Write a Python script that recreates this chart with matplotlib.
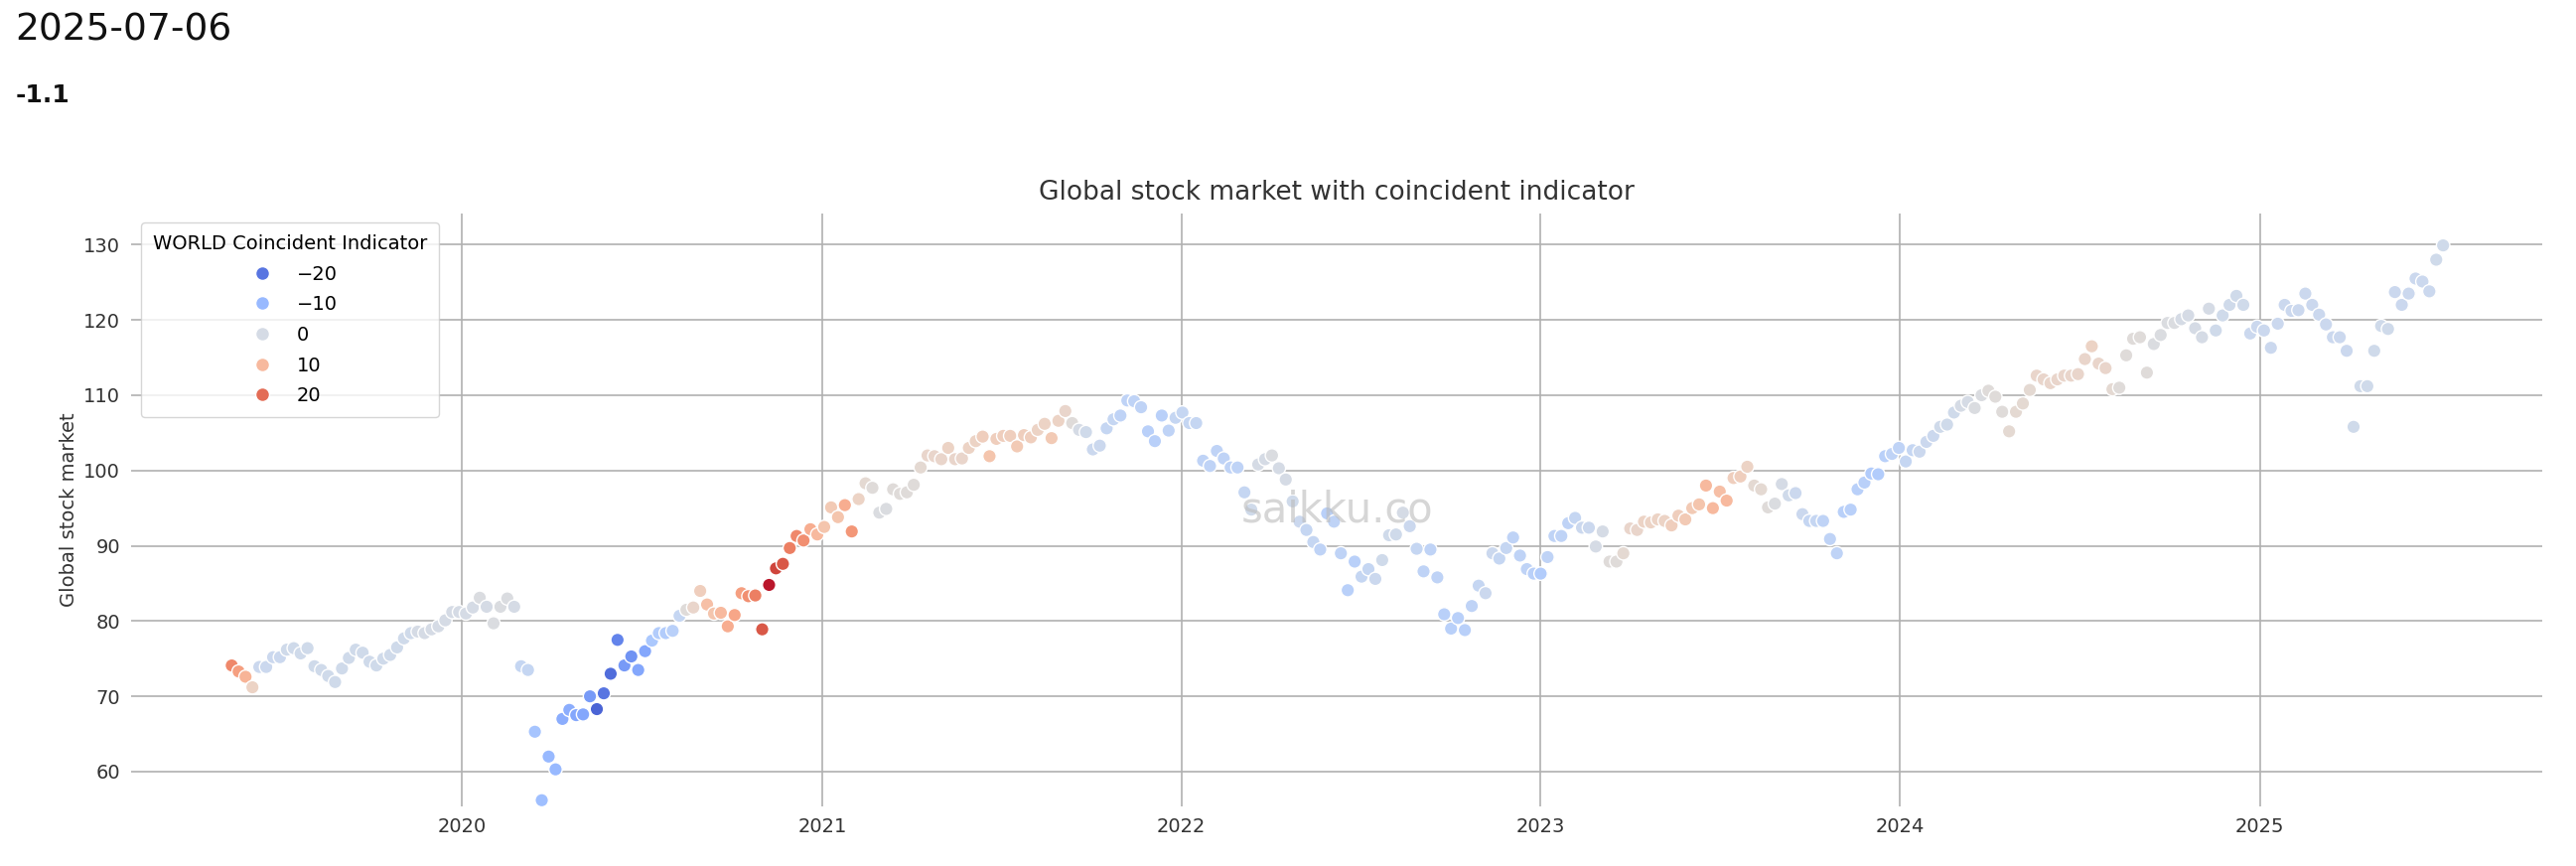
import numpy as np
import pandas as pd
import matplotlib
matplotlib.use("Agg")
import matplotlib.pyplot as plt
from matplotlib.colors import Normalize
from matplotlib.lines import Line2D

# weekly global stock market level
market_2019 = [74.1, 73.3, 72.6, 71.2, 73.9, 73.9, 75.2, 75.2, 76.2, 76.4, 75.7, 76.4,
               74.0, 73.5, 72.7, 71.9, 73.7, 75.1, 76.2, 75.8, 74.6, 74.1, 75.0, 75.5,
               76.5, 77.7, 78.4, 78.6, 78.4, 78.9, 79.3, 80.1, 81.2, 81.2]
market_2020 = [81.0, 81.8, 83.1, 81.9, 79.7, 81.9, 83.0, 81.9, 74.0, 73.5, 65.3, 56.2,
               62.0, 60.3, 67.0, 68.2, 67.5, 67.6, 70.0, 68.3, 70.4, 73.0, 77.5, 74.1,
               75.3, 73.5, 76.0, 77.4, 78.4, 78.4, 78.7, 80.7, 81.5, 81.8, 84.0, 82.2,
               81.0, 81.1, 79.3, 80.8, 83.7, 83.3, 83.4, 78.9, 84.8, 87.0, 87.6, 89.7,
               91.3, 90.7, 92.2, 91.5]
market_2021 = [92.5, 95.1, 93.8, 95.4, 91.9, 96.2, 98.3, 97.7, 94.4, 94.9, 97.5, 96.9,
               97.1, 98.1, 100.4, 102.0, 101.9, 101.5, 103.0, 101.5, 101.6, 103.0, 103.9, 104.5,
               101.9, 104.2, 104.6, 104.6, 103.2, 104.7, 104.4, 105.4, 106.2, 104.3, 106.6, 107.9,
               106.3, 105.4, 105.1, 102.8, 103.3, 105.6, 106.8, 107.3, 109.3, 109.2, 108.4, 105.2,
               103.9, 107.3, 105.3, 107.0]
market_2022 = [107.7, 106.3, 106.3, 101.3, 100.6, 102.6, 101.6, 100.4, 100.4, 97.1, 94.8, 100.8,
               101.5, 102.0, 100.3, 98.8, 95.9, 93.2, 92.1, 90.5, 89.5, 94.3, 93.2, 89.0,
               84.1, 87.9, 85.9, 86.9, 85.6, 88.1, 91.4, 91.5, 94.4, 92.6, 89.6, 86.6,
               89.5, 85.8, 80.9, 79.0, 80.4, 78.8, 82.0, 84.7, 83.7, 89.0, 88.3, 89.7,
               91.1, 88.7, 86.9, 86.3]
market_2023 = [86.3, 88.5, 91.3, 91.3, 93.0, 93.7, 92.4, 92.4, 89.9, 91.9, 87.9, 87.9,
               89.0, 92.3, 92.1, 93.2, 93.1, 93.5, 93.3, 92.7, 94.0, 93.5, 95.0, 95.5,
               98.0, 95.0, 97.2, 96.0, 99.0, 99.2, 100.5, 98.0, 97.5, 95.1, 95.6, 98.2,
               96.7, 97.0, 94.2, 93.3, 93.3, 93.3, 90.9, 89.0, 94.5, 94.8, 97.5, 98.4,
               99.6, 99.5, 101.9, 102.2, 103.0]
market_2024 = [101.2, 102.7, 102.5, 103.8, 104.6, 105.8, 106.1, 107.7, 108.6, 109.1, 108.3, 110.0,
               110.6, 109.8, 107.8, 105.2, 107.8, 108.9, 110.7, 112.6, 112.1, 111.6, 112.1, 112.6,
               112.6, 112.8, 114.8, 116.5, 114.2, 113.6, 110.8, 111.0, 115.3, 117.5, 117.7, 113.0,
               116.8, 118.0, 119.6, 119.6, 120.1, 120.6, 118.9, 117.7, 121.5, 118.6, 120.6, 122.0,
               123.2, 122.0, 118.2, 119.1]
market_2025 = [118.6, 116.3, 119.5, 122.0, 121.2, 121.3, 123.5, 122.0, 120.7, 119.4, 117.7, 117.7,
               115.9, 105.8, 111.2, 111.2, 115.9, 119.2, 118.8, 123.7, 122.0, 123.5, 125.5, 125.1,
               123.8, 128.0, 129.9]

# WORLD coincident indicator (colour)
indicator_2019 = [17, 14, 11, 5, -2, -2, -2, -2, -1, -1, -1, -1,
                  -1, -1, -1, -1, -1, -1, -1, -1, -1, -1, -1, -1,
                  -1, -1, -1, 0, 0, 0, 0, 0, 0, 0]
indicator_2020 = [0, 0, 1, 0, 1, 1, 1, 0, -3, -3, -8, -9,
                  -10, -10, -12, -12, -13, -13, -15, -22, -20, -21, -18, -15,
                  -16, -13, -13, -7, -6, -6, -5, -3, 2, 4, 6, 9,
                  8, 10, 12, 13, 14, 16, 18, 22, 27, 24, 22, 18,
                  17, 16, 12, 10]
indicator_2021 = [8, 7, 8, 12, 15, 5, 3, 2, 1, 1, 2, 2,
                  2, 2, 3, 4, 4, 4, 5, 4, 4, 5, 5, 6,
                  8, 6, 6, 6, 7, 6, 6, 5, 5, 7, 5, 4,
                  2, 0, -1, -2, -2, -3, -3, -4, -4, -4, -4, -5,
                  -5, -5, -4, -3]
indicator_2022 = [-3, -3, -3, -4, -4, -4, -4, -4, -4, -3, -1, 0,
                  0, 1, 0, 0, -1, -2, -3, -3, -4, -5, -4, -4,
                  -5, -5, -3, -3, -2, -1, -1, -1, 0, -2, -3, -4,
                  -4, -4, -5, -5, -5, -5, -4, -3, -2, -2, -3, -3,
                  -4, -4, -4, -5]
indicator_2023 = [-6, -4, -4, -4, -4, -3, -2, -2, 0, 0, 2, 2,
                  3, 4, 4, 5, 5, 5, 5, 6, 6, 7, 7, 8,
                  10, 10, 9, 10, 6, 6, 5, 3, 3, 2, 1, 0,
                  -1, -2, -2, -3, -3, -4, -4, -4, -5, -5, -5, -5,
                  -6, -6, -5, -4, -4]
indicator_2024 = [-3, -3, -2, -2, -2, -1, -1, -1, 0, 0, 1, 1,
                  2, 2, 2, 3, 3, 3, 3, 4, 4, 4, 4, 4,
                  4, 4, 4, 5, 4, 4, 3, 2, 2, 2, 2, 2,
                  1, 1, 1, 1, 0, 0, 0, 0, 0, -1, -1, -1,
                  -1, -1, -2, -2]
indicator_2025 = [-2, -2, -2, -2, -2, -2, -2, -2, -2, -2, -2, -2,
                  -2, -1, -1, -1, -1, -1, -1, -2, -2, -2, -2, -2,
                  -2, -1, -1]

legend_values = [-20, -10, 0, 10, 20]
year_ticks = ["2020", "2021", "2022", "2023", "2024", "2025"]
last_date = "2025-07-06"
last_reading = "-1.1"

market = (market_2019 + market_2020 + market_2021 + market_2022
          + market_2023 + market_2024 + market_2025)
indicator = (indicator_2019 + indicator_2020 + indicator_2021 + indicator_2022
             + indicator_2023 + indicator_2024 + indicator_2025)
dates = pd.date_range(end=last_date, periods=len(market), freq="W-SUN")

df = pd.DataFrame({"date": dates, "market": market, "indicator": indicator})

cmap = plt.get_cmap("coolwarm")
norm = Normalize(vmin=-25, vmax=28)

fig = plt.figure(figsize=(25.94, 8.72), dpi=100)
ax = fig.add_axes([0.051, 0.069, 0.936, 0.685])

ax.scatter(df["date"], df["market"], c=df["indicator"], cmap=cmap, norm=norm,
           s=95, edgecolors="white", linewidths=1.0, zorder=3)

ax.set_xlim(pd.Timestamp("2019-01-30"), pd.Timestamp("2025-10-15"))
ax.set_ylim(55.4, 134.2)
ax.set_yticks([60, 70, 80, 90, 100, 110, 120, 130])
ax.set_xticks([pd.Timestamp(y + "-01-01") for y in year_ticks])
ax.set_xticklabels(year_ticks)
ax.grid(True, color="#b0b0b0", linewidth=1.2)
ax.set_axisbelow(True)
for sp in ax.spines.values():
    sp.set_visible(False)
ax.tick_params(axis="both", labelsize=14, colors="#333333", length=0, pad=8)

ax.set_title("Global stock market with coincident indicator", fontsize=19,
             color="#333333", pad=10)
ax.set_ylabel("Global stock market", fontsize=14, color="#333333")

handles = [Line2D([0], [0], marker="o", linestyle="", markersize=10,
                  markerfacecolor=cmap(norm(v)), markeredgecolor="white")
           for v in legend_values]
labels = [f"{v}".replace("-", "\u2212") for v in legend_values]
leg = ax.legend(handles, labels, title="WORLD Coincident Indicator", loc="upper left",
                fontsize=14, title_fontsize=14, frameon=True, borderpad=0.6,
                labelspacing=0.6, bbox_to_anchor=(0.0, 1.0))
leg.get_frame().set_edgecolor("#cccccc")

ax.text(0.5, 0.5, "saikku.co", transform=ax.transAxes, fontsize=30,
        color="#bbbbbb", alpha=0.6, ha="center", va="center")

fig.text(0.006, 0.965, last_date, fontsize=27, color="#111111",
         family="Liberation Sans Narrow", va="center")
fig.text(0.006, 0.89, last_reading, fontsize=18, weight="bold", color="#111111",
         family="Liberation Sans Narrow", va="center")

fig.savefig("out.png", dpi=100)
